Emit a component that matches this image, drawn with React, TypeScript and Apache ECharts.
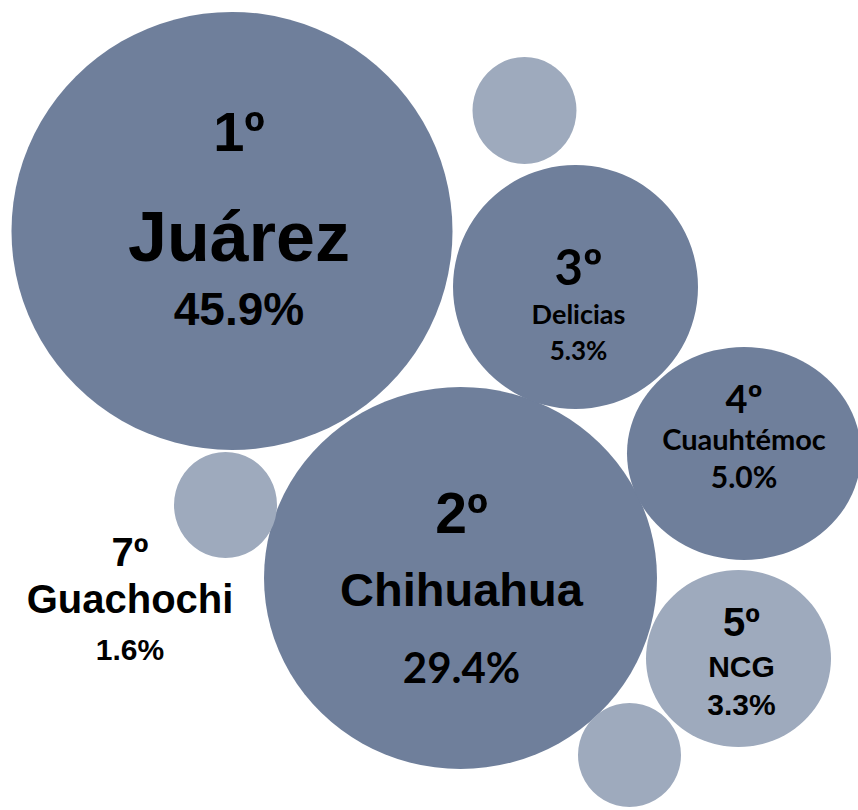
import React, { useEffect, useRef } from "react";
import * as echarts from "echarts";

// ---- data ----
const ranks = ["1º", "2º", "3º", "4º", "5º", "", "7º", ""];
const names = ["Juárez", "Chihuahua", "Delicias", "Cuauhtémoc", "NCG", "", "Guachochi", ""];
const shares = ["45.9%", "29.4%", "5.3%", "5.0%", "3.3%", "", "1.6%", ""];
const tones = ["dark", "dark", "dark", "dark", "light", "light", "light", "light"];

// ---- packed bubble layout (layout units of the 858 x 810 canvas) ----
const bubbleX = [232, 460.5, 575.5, 744, 738.5, 524.5, 225.5, 629.5];
const bubbleY = [231, 578, 287, 453.5, 658.5, 110.5, 505, 755];
const bubbleW = [441, 393, 245, 234, 185, 104, 103, 103];
const bubbleH = [438, 382, 244, 213, 177, 107, 106, 104];

const ARIAL = "Liberation Sans, Arial, sans-serif";
const CALIBRI = "Lato, sans-serif";
const COLORS: Record<string, string> = { dark: "#6f7f9b", light: "#9eaabd" };

type LabelSpec = {
  dx: number;
  dy: number;
  lh: number[];
  fonts: [string, number][];
};

const labelSpecs: LabelSpec[] = [
  { dx: 7, dy: -28, lh: [132, 80, 64], fonts: [[ARIAL, 56], [ARIAL, 70], [ARIAL, 46]] },
  { dx: 1, dy: 13, lh: [76, 76, 80], fonts: [[ARIAL, 57], [ARIAL, 47], [CALIBRI, 42]] },
  { dx: 3, dy: 15.5, lh: [59, 36, 38], fonts: [[CALIBRI, 49], [CALIBRI, 27], [CALIBRI, 26]] },
  { dx: 0, dy: -18, lh: [45, 36, 39], fonts: [[CALIBRI, 38], [CALIBRI, 29], [CALIBRI, 30]] },
  { dx: 3, dy: 1, lh: [53, 36, 39], fonts: [[ARIAL, 40], [ARIAL, 30], [ARIAL, 30]] },
  { dx: 0, dy: 0, lh: [10, 10, 10], fonts: [[ARIAL, 10], [ARIAL, 10], [ARIAL, 10]] },
  { dx: -95.5, dy: 97, lh: [46, 48, 52], fonts: [[ARIAL, 40], [ARIAL, 40], [ARIAL, 30]] },
  { dx: 0, dy: 0, lh: [10, 10, 10], fonts: [[ARIAL, 10], [ARIAL, 10], [ARIAL, 10]] },
];

function richFor(spec: LabelSpec) {
  const keys = ["r", "n", "p"];
  const rich: Record<string, any> = {};
  keys.forEach((k, i) => {
    rich[k] = {
      fontFamily: spec.fonts[i][0],
      fontSize: spec.fonts[i][1],
      fontWeight: "bold",
      lineHeight: spec.lh[i],
      color: "#000000",
      align: "center",
    };
  });
  return rich;
}

export default function App() {
  const ref = useRef<HTMLDivElement>(null);

  useEffect(() => {
    document.body.style.margin = "0";
    if (!ref.current) return;
    const chart = echarts.init(ref.current, undefined, { renderer: "svg" });

    const data = bubbleX.map((x, i) => {
      const spec = labelSpecs[i];
      const hasLabel = names[i] !== "";
      return {
        name: names[i],
        value: [x, bubbleY[i]],
        itemStyle: { color: COLORS[tones[i]], opacity: 1 },
        label: {
          show: hasLabel,
          position: "inside",
          offset: [spec.dx, spec.dy],
          color: "#000000",
          opacity: 1,
          formatter: `{r|${ranks[i]}}\n{n|${names[i]}}\n{p|${shares[i]}}`,
          rich: richFor(spec),
        },
      };
    });

    chart.setOption({
      animation: false,
      backgroundColor: "#ffffff",
      grid: { left: 0, right: 0, top: 0, bottom: 0 },
      xAxis: { type: "value", min: 0, max: 858, show: false },
      yAxis: { type: "value", min: 0, max: 810, inverse: true, show: false },
      series: [
        {
          type: "scatter",
          silent: true,
          symbol: "circle",
          symbolSize: (_v: any, p: any) => [bubbleW[p.dataIndex], bubbleH[p.dataIndex]],
          itemStyle: { opacity: 1 },
          emphasis: { disabled: true },
          data,
        },
      ],
    });

    return () => chart.dispose();
  }, []);

  return <div ref={ref} style={{ width: 858, height: 810 }} />;
}
